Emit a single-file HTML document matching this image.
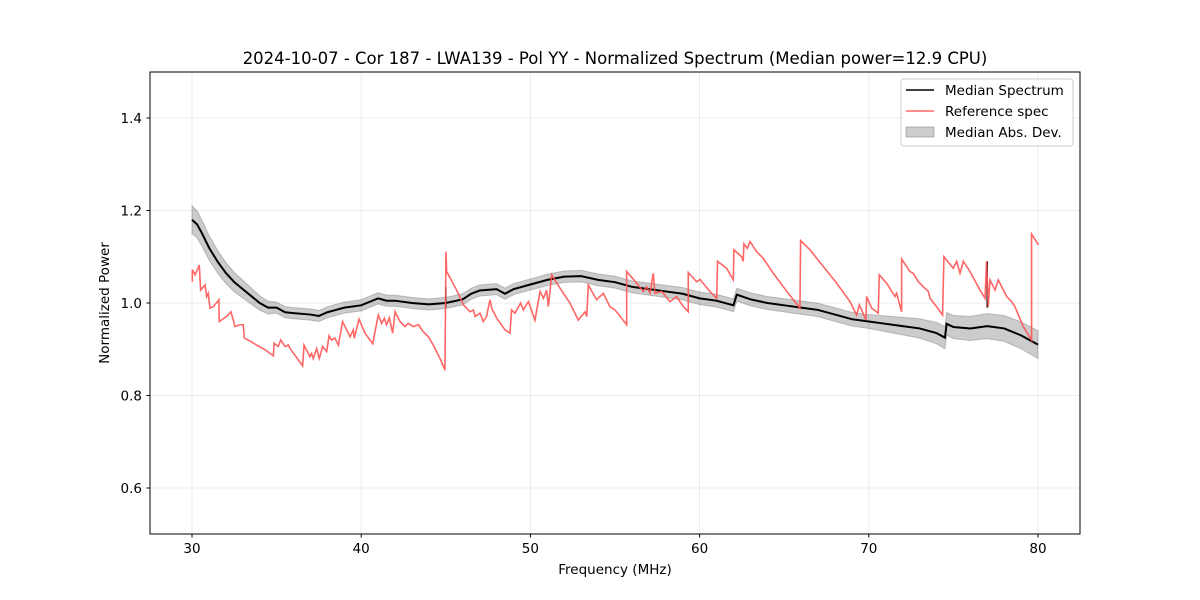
<!DOCTYPE html>
<html><head><meta charset="utf-8"><style>
body{margin:0;background:#fff;}
svg{display:block;font-family:"DejaVu Sans","Liberation Sans",sans-serif;}
</style></head><body>
<svg id="chart" width="1200" height="600" viewBox="0 0 1200 600" xmlns="http://www.w3.org/2000/svg">
<rect width="1200" height="600" fill="#fff"/>
<g id="grid"></g>
<g id="marks"></g>
<rect x="150" y="72" width="930" height="462" fill="none" stroke="#000" stroke-width="1"/>
<g id="ticks"></g>
<text x="615" y="64" text-anchor="middle" font-size="16.5">2024-10-07 - Cor 187 - LWA139 - Pol YY - Normalized Spectrum (Median power=12.9 CPU)</text>
<text x="615" y="574" text-anchor="middle" font-size="13.5">Frequency (MHz)</text>
<text transform="translate(109,303) rotate(-90)" text-anchor="middle" font-size="13.5">Normalized Power</text>
<g>
<rect x="901" y="79" width="172" height="67" rx="3" fill="#fff" fill-opacity="0.8" stroke="#ccc"/>
<line x1="906" y1="90" x2="934" y2="90" stroke="#000" stroke-width="1.5"/>
<text x="945" y="95" font-size="13.5">Median Spectrum</text>
<line x1="906" y1="111" x2="934" y2="111" stroke="#ff5555" stroke-opacity="0.9" stroke-width="1.5"/>
<text x="945" y="116" font-size="13.5">Reference spec</text>
<rect x="906" y="127" width="28" height="10" fill="#000" fill-opacity="0.2" stroke="#888" stroke-opacity="0.6"/>
<text x="945" y="137" font-size="13.5">Median Abs. Dev.</text>
</g>
</svg>
<script>
const xTicks=[30,40,50,60,70,80];
const yTicks=[0.6,0.8,1.0,1.2,1.4];
const yTickLabels=["0.6","0.8","1.0","1.2","1.4"];
const refFreq=[30.02,30.02,30.18,30.43,30.51,30.77,30.87,30.96,31.06,31.26,31.59,31.61,32.05,32.30,32.44,32.54,32.84,33.03,33.09,33.43,33.82,34.31,34.81,34.85,35.1,35.24,35.5,35.69,35.79,36.54,36.62,36.97,37.07,37.17,37.37,37.52,37.72,37.96,38.1,38.25,38.45,38.65,38.9,39.14,39.34,39.53,39.59,39.87,40.22,40.68,41.01,41.21,41.37,41.5,41.66,41.86,42.0,42.29,42.59,42.78,43.08,43.38,43.67,43.97,44.26,44.66,44.95,45.01,45.05,45.64,46.04,46.43,46.63,46.73,47.02,47.22,47.41,47.61,47.71,48.01,48.5,48.79,48.89,49.09,49.42,49.58,49.88,50.27,50.57,50.77,50.96,51.06,51.26,51.75,52.34,52.83,53.23,53.33,53.42,53.91,54.31,54.7,55.0,55.69,55.69,56.28,56.67,56.87,57.07,57.26,57.36,57.76,58.25,58.64,59.04,59.33,59.33,59.82,60.02,60.61,61.01,61.06,61.6,61.99,62.03,62.48,62.58,62.62,62.82,62.98,63.37,63.76,64.36,64.95,65.54,65.93,65.97,66.52,67.31,68.1,68.89,69.28,69.44,69.83,69.87,70.17,70.56,70.62,71.05,71.55,71.64,71.94,71.94,72.43,72.63,72.93,73.22,73.52,73.62,74.01,74.36,74.44,74.99,75.19,75.39,75.59,75.98,76.57,76.87,76.96,77.06,77.16,77.46,77.65,78.15,78.44,78.64,79.13,79.62,79.62,80.02];
const refVal=[1.046,1.072,1.061,1.082,1.028,1.039,1.014,1.021,0.989,0.992,1.007,0.960,0.971,0.981,0.963,0.949,0.953,0.953,0.924,0.918,0.909,0.899,0.886,0.913,0.906,0.920,0.906,0.909,0.902,0.864,0.909,0.884,0.891,0.880,0.901,0.880,0.906,0.895,0.929,0.920,0.924,0.909,0.960,0.942,0.927,0.942,0.924,0.965,0.935,0.912,0.974,0.956,0.967,0.953,0.968,0.935,0.981,0.960,0.949,0.956,0.949,0.953,0.938,0.927,0.909,0.880,0.855,1.111,1.068,1.028,0.996,0.981,0.985,0.971,0.978,0.960,0.971,1.007,0.989,0.967,0.942,0.935,0.985,0.978,1.0,0.985,1.003,0.963,1.025,1.01,1.028,0.992,1.061,1.032,1.0,0.963,0.981,0.971,1.039,1.007,1.021,0.992,0.985,0.953,1.068,1.043,1.025,1.035,1.021,1.064,1.021,1.025,1.003,1.014,0.992,0.981,1.066,1.046,1.051,1.025,1.010,1.090,1.075,1.050,1.115,1.100,1.090,1.128,1.118,1.133,1.111,1.097,1.064,1.035,1.007,0.989,1.135,1.115,1.079,1.043,1.003,0.974,0.996,0.963,1.014,0.989,0.978,1.061,1.043,1.014,1.021,0.981,1.095,1.068,1.064,1.046,1.035,1.025,1.010,0.992,0.974,1.100,1.075,1.090,1.064,1.090,1.068,1.028,1.010,1.090,0.992,1.050,1.028,1.050,1.014,1.003,0.992,0.949,0.920,1.149,1.126];
const medFreq=[30,30.3,30.6,31,31.5,32,32.5,33,33.5,34,34.5,35,35.5,36,37,37.5,38,38.5,39,40,41,41.5,42,43,44,45,46,46.5,47,48,48.5,49,50,51,52,53,54,55,56,57,58,59,60,61,62,62.2,63,64,65,66,67,68,69,70,71,72,73,74,74.5,74.6,75,76,77,78,79,80];
const medVal=[1.18,1.17,1.15,1.12,1.09,1.065,1.045,1.03,1.015,1.0,0.99,0.99,0.98,0.978,0.975,0.972,0.98,0.985,0.99,0.995,1.01,1.005,1.005,1.0,0.997,1.0,1.008,1.02,1.027,1.03,1.02,1.03,1.04,1.05,1.057,1.058,1.05,1.045,1.035,1.03,1.025,1.02,1.01,1.005,0.995,1.018,1.008,1.0,0.995,0.99,0.985,0.975,0.965,0.96,0.955,0.95,0.945,0.935,0.925,0.955,0.948,0.945,0.95,0.945,0.93,0.91];
const madFreq=[30,35,50,70,75,80];
const madVal=[0.03,0.012,0.012,0.015,0.025,0.03];
const spikeFreq=[45,77];
const spikeVal=[1.035,1.09];

const X=f=>192+(f-30)*16.92;
const Y=v=>303-(v-1)*462.5;
const NS="http://www.w3.org/2000/svg";
function mk(tag,attrs,parent){const e=document.createElementNS(NS,tag);for(const k in attrs)e.setAttribute(k,attrs[k]);parent.appendChild(e);return e;}
function madAt(f){for(let i=0;i<madFreq.length-1;i++){if(f<=madFreq[i+1]){const t=(f-madFreq[i])/(madFreq[i+1]-madFreq[i]);return madVal[i]+t*(madVal[i+1]-madVal[i]);}}return madVal[madVal.length-1];}
const grid=document.getElementById('grid'),marks=document.getElementById('marks'),ticks=document.getElementById('ticks');
xTicks.forEach(t=>{
 const l=mk('line',{x1:X(t),x2:X(t),y1:72,y2:534,stroke:'#b0b0b0','stroke-opacity':0.3,'stroke-width':0.8},grid);
 
 
 const tk=mk('line',{x1:X(t),x2:X(t),y1:534,y2:537.5,stroke:'#000'},ticks);
 
 
 const tx=mk('text',{x:X(t),y:553,'text-anchor':'middle','font-size':13.5},ticks);
 tx.textContent=t;
 
 
});
yTicks.forEach((t,i)=>{
 const l=mk('line',{x1:150,x2:1080,y1:Y(t),y2:Y(t),stroke:'#b0b0b0','stroke-opacity':0.3,'stroke-width':0.8},grid);
 
 
 const tk=mk('line',{x1:146.5,x2:150,y1:Y(t),y2:Y(t),stroke:'#000'},ticks);
 
 
 const tx=mk('text',{x:142,y:Y(t)+5,'text-anchor':'end','font-size':13.5},ticks);
 tx.textContent=yTickLabels[i];
 
 
});
let up=medFreq.map((f,i)=>X(f)+','+Y(medVal[i]+madAt(f)));
let dn=medFreq.map((f,i)=>X(f)+','+Y(medVal[i]-madAt(f))).reverse();
const band=mk('polygon',{points:up.concat(dn).join(' '),fill:'#000','fill-opacity':0.2,stroke:'#888','stroke-opacity':0.5},marks);


const med=mk('polyline',{points:medFreq.map((f,i)=>X(f)+','+Y(medVal[i])).join(' '),fill:'none',stroke:'#000','stroke-width':2},marks);


spikeFreq.forEach((f,i)=>{
 const s=mk('line',{x1:X(f),x2:X(f),y1:Y(0.99),y2:Y(spikeVal[i]),stroke:'#000','stroke-width':1.5},marks);
 
 
});
const ref=mk('polyline',{points:refFreq.map((f,i)=>X(f)+','+Y(refVal[i])).join(' '),fill:'none',stroke:'#ff5555','stroke-opacity':0.9,'stroke-width':1.6},marks);


</script>
</body></html>
